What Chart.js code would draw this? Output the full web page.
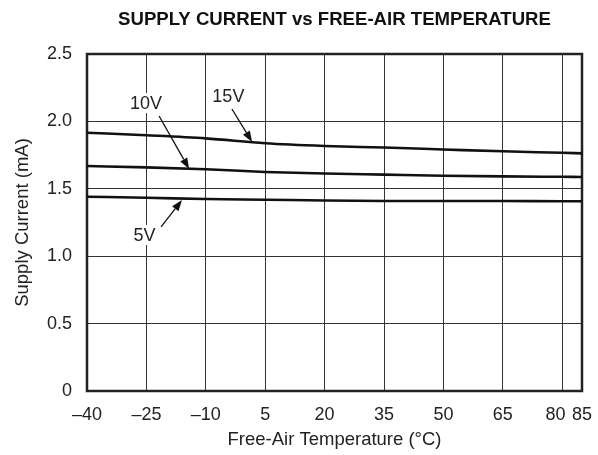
<!DOCTYPE html>
<html>
<head>
<meta charset="utf-8">
<script src="https://cdn.jsdelivr.net/npm/chart.js@4/dist/chart.umd.min.js"></script>
<style>
html,body{margin:0;padding:0;background:#fff;}
#wrap{width:598px;height:455px;position:relative;}
</style>
</head>
<body>
<div id="wrap"><canvas id="c" width="598" height="455"></canvas></div>
<script>
// ---- data ----
const temps = [-40, -25, -10, 5, 20, 35, 50, 65, 80, 85];
const current15V = [1.916, 1.897, 1.874, 1.838, 1.818, 1.806, 1.792, 1.778, 1.767, 1.763];
const current10V = [1.669, 1.659, 1.645, 1.625, 1.613, 1.605, 1.597, 1.592, 1.589, 1.588];
const current5V  = [1.441, 1.434, 1.424, 1.419, 1.413, 1.410, 1.409, 1.409, 1.408, 1.408];
const xTickValues = [-40, -25, -10, 5, 20, 35, 50, 65, 80, 85];
const xTickLabels = ['\u201340', '\u201325', '\u201310', '5', '20', '35', '50', '65', '80\u2007\u2009', '85'];
const yTickValues = [0, 0.5, 1.0, 1.5, 2.0, 2.5];
const yTickLabels = ['0', '0.5', '1.0', '1.5', '2.0', '2.5'];
const seriesNames = ['15V', '10V', '5V'];
// annotation anchors in data units: label centre, arrow tail, arrow head
const labelT = [-4.3, -25.1, -25.5];
const labelV = [2.188, 2.136, 1.157];
const arrowFromT = [-3.4, -21.8, -21.3];
const arrowFromV = [2.092, 2.040, 1.217];
const arrowToT = [1.7, -14.2, -16.0];
const arrowToV = [1.847, 1.647, 1.417];
const titleText = 'SUPPLY CURRENT vs FREE-AIR TEMPERATURE';
const xTitle = 'Free-Air Temperature (\u00B0C)';
const yTitle = 'Supply Current (mA)';

const FONT = "'Liberation Sans', Arial, Helvetica, sans-serif";

const mk = (vals) => temps.map((t, i) => ({x: t, y: vals[i]}));

const annotPlugin = {
  id: 'annot',
  beforeDatasetsDraw(chart) {
    const ctx = chart.ctx, a = chart.chartArea;
    ctx.save();
    ctx.strokeStyle = '#222';
    ctx.lineWidth = 2.5;
    ctx.strokeRect(a.left, a.top, a.right - a.left, a.bottom - a.top);
    ctx.restore();
  },
  afterDatasetsDraw(chart) {
    const ctx = chart.ctx, xs = chart.scales.x, ys = chart.scales.y;
    ctx.save();
    ctx.font = '18px ' + FONT;
    ctx.textAlign = 'center';
    ctx.textBaseline = 'middle';
    for (let i = 0; i < seriesNames.length; i++) {
      const lx = xs.getPixelForValue(labelT[i]);
      const ly = ys.getPixelForValue(labelV[i]);
      const w = ctx.measureText(seriesNames[i]).width;
      ctx.fillStyle = '#fff';
      ctx.fillRect(lx - w / 2 - 3, ly - 10, w + 6, 20);
      ctx.fillStyle = '#222';
      ctx.fillText(seriesNames[i], lx, ly + 1);
      const x0 = xs.getPixelForValue(arrowFromT[i]);
      const y0 = ys.getPixelForValue(arrowFromV[i]);
      const x1 = xs.getPixelForValue(arrowToT[i]);
      const y1 = ys.getPixelForValue(arrowToV[i]);
      const ang = Math.atan2(y1 - y0, x1 - x0);
      const hl = 11, hw = 4;
      const bx = x1 - hl * Math.cos(ang), by = y1 - hl * Math.sin(ang);
      ctx.strokeStyle = '#111';
      ctx.lineWidth = 1.3;
      ctx.beginPath();
      ctx.moveTo(x0, y0);
      ctx.lineTo(bx, by);
      ctx.stroke();
      ctx.fillStyle = '#111';
      ctx.beginPath();
      ctx.moveTo(x1, y1);
      ctx.lineTo(bx + hw * Math.sin(ang), by - hw * Math.cos(ang));
      ctx.lineTo(bx - hw * Math.sin(ang), by + hw * Math.cos(ang));
      ctx.closePath();
      ctx.fill();
    }
    // chart title centred over the plot area
    const a = chart.chartArea;
    ctx.font = 'bold 18.6px ' + FONT;
    ctx.fillStyle = '#111';
    ctx.fillText(titleText, (a.left + a.right) / 2, 20);
    ctx.restore();
  }
};

new Chart(document.getElementById('c'), {
  type: 'line',
  data: {
    datasets: [
      {label: seriesNames[0], data: mk(current15V)},
      {label: seriesNames[1], data: mk(current10V)},
      {label: seriesNames[2], data: mk(current5V)}
    ].map(d => Object.assign(d, {
      borderColor: '#111', borderWidth: 2.6, pointRadius: 0,
      cubicInterpolationMode: 'monotone', fill: false
    }))
  },
  options: {
    responsive: false,
    animation: false,
    layout: {padding: {left: 0, right: 16, top: 54, bottom: 0}},
    plugins: {legend: {display: false}, tooltip: {enabled: false}, title: {display: false}},
    scales: {
      x: {
        type: 'linear', min: -40, max: 85,
        afterBuildTicks: (s) => { s.ticks = xTickValues.map(v => ({value: v})); },
        afterFit: (s) => { s.height = 64; s.paddingRight = 0; },
        grid: {color: '#333', lineWidth: 1, drawTicks: false},
        border: {display: false},
        ticks: {
          padding: 13, color: '#222', maxRotation: 0, autoSkip: false,
          font: {family: FONT, size: 18},
          callback: (v) => { const i = xTickValues.indexOf(v); return i >= 0 ? xTickLabels[i] : ''; }
        },
        title: {display: true, text: xTitle, color: '#222', font: {family: FONT, size: 18.5}, padding: {top: 0, bottom: 4}}
      },
      y: {
        type: 'linear', min: 0, max: 2.5,
        afterBuildTicks: (s) => { s.ticks = yTickValues.map(v => ({value: v})); },
        afterFit: (s) => { s.width = 87; },
        grid: {color: '#333', lineWidth: 1, drawTicks: false},
        border: {display: false},
        ticks: {
          padding: 15, color: '#222',
          font: {family: FONT, size: 18},
          callback: (v) => { const i = yTickValues.indexOf(v); return i >= 0 ? yTickLabels[i] : ''; }
        },
        title: {display: true, text: yTitle, color: '#222', font: {family: FONT, size: 18.5}, padding: {top: 12, bottom: 0}}
      }
    }
  },
  plugins: [annotPlugin]
});
</script>
</body>
</html>
